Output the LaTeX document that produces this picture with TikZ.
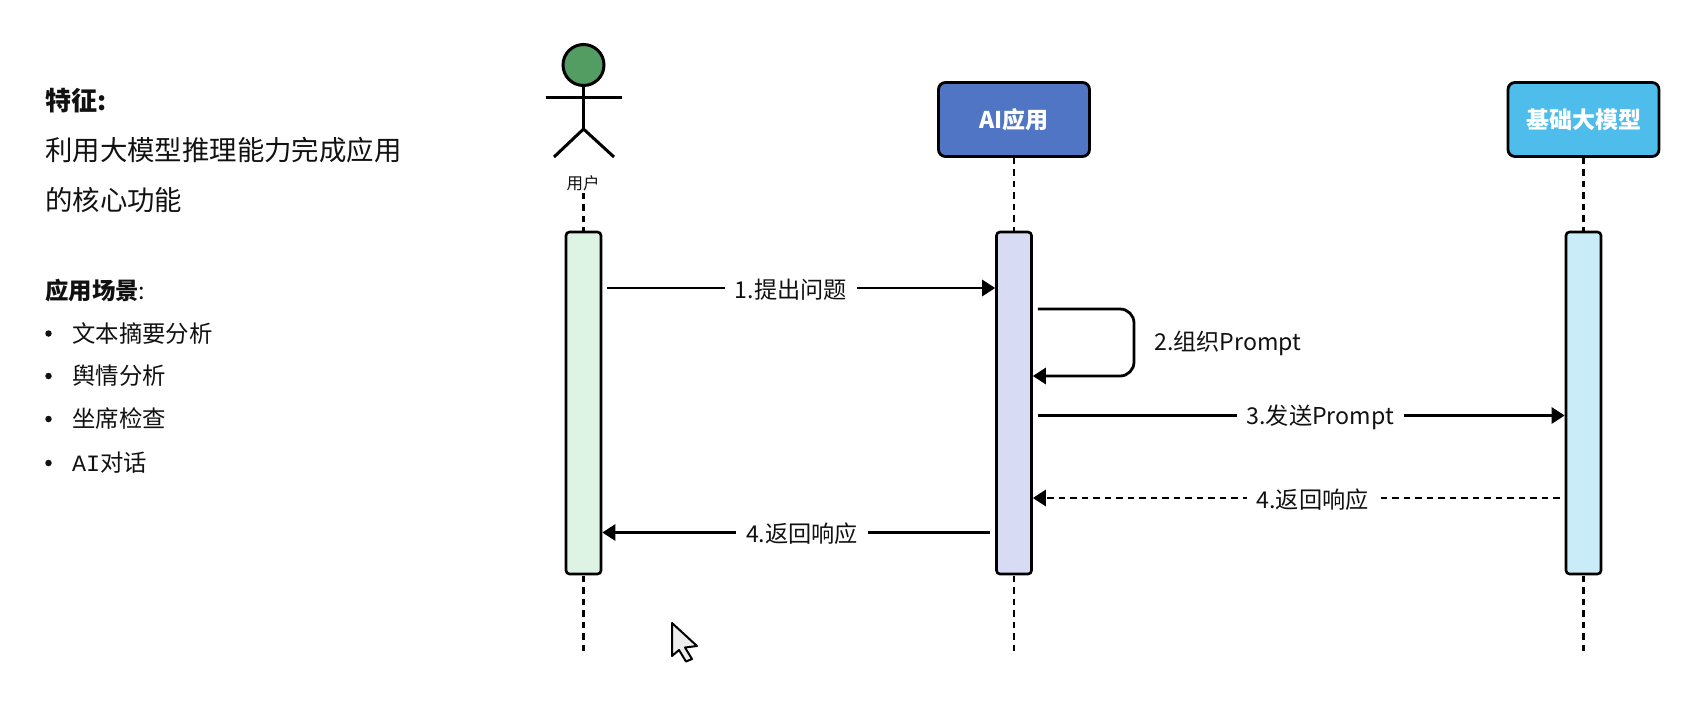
\documentclass[tikz,border=0pt]{standalone}
\usepackage{fontspec}
\setmainfont{Noto Sans CJK SC}
\newfontfamily\latinmono{Liberation Mono}
\usetikzlibrary{arrows.meta}
\definecolor{ink}{HTML}{111111}
\definecolor{headgreen}{HTML}{539C62}
\definecolor{boxblue}{HTML}{5075C4}
\definecolor{boxcyan}{HTML}{4FBDEC}
\definecolor{actgreen}{HTML}{DDF3E3}
\definecolor{actblue}{HTML}{D7DCF4}
\definecolor{actcyan}{HTML}{C9ECF8}
\tikzset{
  x=1pt,y=-1pt,
  txt/.style={anchor=west,inner sep=0pt,text=ink},
  bigtxt/.style={txt,font=\fontsize{27.4}{27.4}\selectfont},
  smalltxt/.style={txt,font=\fontsize{23.4}{23.4}\selectfont},
  headbox/.style={draw=black,line width=2.8pt,rounded corners=7pt,minimum width=151pt,minimum height=74pt,inner sep=0pt,text=white,font=\fontsize{23}{23}\selectfont\bfseries},
  actbox/.style={draw=black,line width=2.6pt,rounded corners=3.5pt,minimum width=35pt,minimum height=342pt,inner sep=0pt},
  life/.style={draw=black,line width=2.8pt,dash pattern=on 6.5pt off 5pt},
  limb/.style={draw=black,line width=3pt},
  msg/.style={draw=black,line width=2.8pt},
  tip/.style={-{Triangle[length=13pt,width=16pt]}},
  lbl/.style={fill=white,text=ink,inner xsep=10pt,inner ysep=3pt,yshift=-1.5pt,font=\fontsize{23.2}{23.2}\selectfont},
}
\begin{document}
\begin{tikzpicture}
\useasboundingbox (0,0) rectangle (1684,705);
% left text
\node[bigtxt,font=\fontsize{26}{26}\selectfont\bfseries] (t1) at (45,100.5) {特征:};
\node[bigtxt] (t2) at (45,150) {利用大模型推理能力完成应用};
\node[bigtxt] (t3) at (45,200.5) {的核心功能};
\node[smalltxt] (t4) at (45,291) {\textbf{应用场景}:};
\foreach \n/\yy/\s in {a/333.5/文本摘要分析,b/376/舆情分析,c/419/坐席检查,d/463/{{\latinmono AI}对话}}{
  \node[circle,fill=ink,inner sep=0pt,minimum size=6.5pt] (dot\n) at (48.5,\yy) {};
  \node[smalltxt] (it\n) at (72,\yy) {\s};
}
% actor
\node[circle,draw=black,line width=3pt,fill=headgreen,minimum size=41pt,inner sep=0pt] (head) at (583.5,65) {};
\coordinate (armL) at (545.5,97);
\coordinate (armR) at (621.5,97);
\coordinate (neck) at (583.5,97);
\coordinate (hip) at (583.5,129);
\coordinate (legL) at (554,157);
\coordinate (legR) at (614,157);
\draw[limb] (armL) -- (armR);
\draw[limb] (head) -- (hip);
\draw[limb,line join=miter] (legL) -- (hip) -- (legR);
\node[inner sep=0pt,text=ink,font=\fontsize{16.5}{16.5}\selectfont] (user) at (583,183) {用户};
% header boxes
\node[headbox,fill=boxblue] (app) at (1014,119.5) {AI应用};
\node[headbox,fill=boxcyan] (model) at (1583.5,119.5) {基础大模型};
% end points of lifelines
\coordinate (end1) at (583.5,652);
\coordinate (end2) at (1014,655);
\coordinate (end3) at (1583.5,655);
% lifelines (behind activations)
\coordinate (act1c) at (583.5,403);
\coordinate (act2c) at (1014,403);
\coordinate (act3c) at (1583.5,403);
\draw[life] ([yshift=-2pt]user.south -| act1c) -- (act1c);
\draw[life] (act1c) -- (end1);
\draw[life] (app.south) -- (act2c);
\draw[life] (act2c) -- (end2);
\draw[life] (model.south) -- (act3c);
\draw[life] (act3c) -- (end3);
% activations
\node[actbox,fill=actgreen] (a1) at (act1c) {};
\node[actbox,fill=actblue] (a2) at (act2c) {};
\node[actbox,fill=actcyan] (a3) at (act3c) {};
% message levels
\coordinate (y1) at (0,288);
\coordinate (y2a) at (0,309);
\coordinate (y2b) at (0,376);
\coordinate (y3) at (0,415.5);
\coordinate (y4) at (0,498);
\coordinate (y5) at (0,532.5);
\coordinate (loopx) at (1134,0);
% messages
\draw[msg,tip] ([xshift=5pt]a1.east |- y1) -- node[lbl,pos=.473] (l1) {1.提出问题} ([xshift=0pt]a2.west |- y1);
\draw[msg,tip,rounded corners=14pt] ([xshift=5pt]a2.east |- y2a) -- (loopx |- y2a) -- (loopx |- y2b) -- ([xshift=0pt]a2.east |- y2b);
\node[inner sep=0pt,text=ink,anchor=west,font=\fontsize{23.2}{23.2}\selectfont] (l2) at (1154,343) {2.组织Prompt};
\draw[msg,tip] ([xshift=5pt]a2.east |- y3) -- node[lbl,pos=.536] (l3) {3.发送Prompt} ([xshift=0pt]a3.west |- y3);
\draw[msg,tip,dash pattern=on 6.5pt off 5pt] ([xshift=-5pt]a3.west |- y4) -- node[lbl,pos=.469] (l4) {4.返回响应} ([xshift=0pt]a2.east |- y4);
\draw[msg,tip] ([xshift=-5pt]a2.west |- y5) -- node[lbl,pos=.485] (l5) {4.返回响应} ([xshift=0pt]a1.east |- y5);
% cursor
\draw[draw=black,line width=2pt,fill=black!7,line join=round]
  (672,623) -- (697,646) -- (685,647.5) -- (692,659) -- (686,661.5) -- (679,650) -- (672,656) -- cycle;
\end{tikzpicture}
\end{document}
